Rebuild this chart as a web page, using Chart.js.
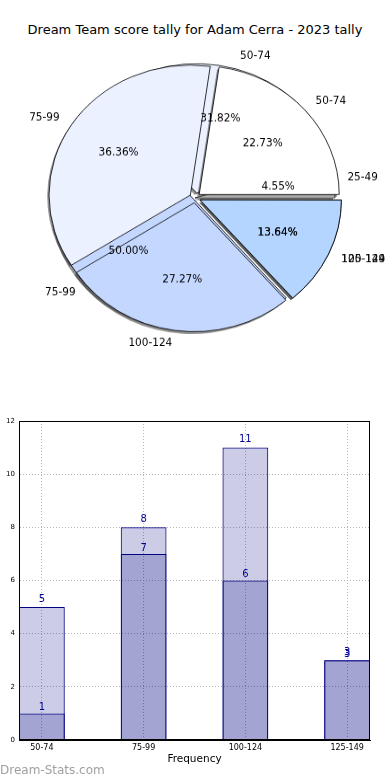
<!DOCTYPE html>
<html>
<head>
<meta charset="utf-8">
<script src="https://cdn.jsdelivr.net/npm/chart.js@4"></script>
<style>
  body { margin:0; background:#fff; width:390px; height:780px; position:relative; overflow:hidden; font-family:'DejaVu Sans', sans-serif; }
  #titulo { position:absolute; top:22px; left:0; width:390px; text-align:center; font-size:13px; color:#000; }
  .pieWrap { position:absolute; top:0; left:0; width:390px; height:400px; transform:scaleY(0.92); transform-origin:0 0; }
  .pieWrap canvas { position:absolute; top:0; left:0; }
  #barWrap { position:absolute; top:400px; left:0; width:390px; height:380px; }
  #marca { position:absolute; left:0; top:763px; font-size:12px; color:#a0a0a0; }
</style>
</head>
<body>
<div id="titulo">Dream Team score tally for Adam Cerra - 2023 tally</div>
<div class="pieWrap"><canvas id="pieAtras" width="390" height="400"></canvas></div>
<div class="pieWrap"><canvas id="pieFrente" width="390" height="400"></canvas></div>
<div id="barWrap"><canvas id="barras" width="390" height="380"></canvas></div>
<div id="marca">Dream-Stats.com</div>
<script>
// pie de atras
const rangosAtras = ['25-49', '50-74', '75-99', '100-124'];
const valoresAtras = [1, 7, 11, 3];
const separarAtras = [0, 22, 8, 22];
// pie de adelante
const rangosFrente = ['50-74', '75-99', '100-124', '125-149'];
const valoresFrente = [5, 8, 6, 3];
const separarFrente = [22, 22, 22, 22];
// barras
const rangosBarras = ['50-74', '75-99', '100-124', '125-149'];
const totales = [5, 8, 11, 3];
const temporada = [1, 7, 6, 3];
const ticksY = [0, 2, 4, 6, 8, 10, 12];

const coloresPie = ['#ffffff', '#ebf1ff', '#c4d7ff', '#b3d5ff'];
const ESCALA = 0.92; // el pie original es un ovalo
const fuente = "'DejaVu Sans', sans-serif";
Chart.defaults.font.family = fuente;

function desplazamiento(arc) {
  const circ = arc.endAngle - arc.startAngle;
  const off = (arc.options.offset || 0) / 4;
  const fix = 1 - Math.sin(Math.min(Math.PI, circ));
  return off + off * fix;
}

// sombra solo del relleno, corrida abajo a la izquierda
const sombra = {
  id: 'sombra',
  beforeDatasetsDraw(chart) {
    const c = chart.ctx;
    c.save();
    c.fillStyle = 'rgba(40,40,40,0.5)';
    chart.getDatasetMeta(0).data.forEach(arc => {
      const mid = (arc.startAngle + arc.endAngle) / 2;
      const d = desplazamiento(arc);
      const x = arc.x + Math.cos(mid) * d - 2;
      const y = arc.y + Math.sin(mid) * d + 2.5;
      c.beginPath();
      c.moveTo(x, y);
      c.arc(x, y, arc.outerRadius, arc.startAngle, arc.endAngle);
      c.closePath();
      c.fill();
    });
    c.restore();
  }
};

function texto(c, t, x, y) {
  c.save();
  c.translate(x, y);
  c.scale(1, 1 / ESCALA);
  c.fillText(t, 0, 0);
  c.restore();
}

function armarPie(id, etiquetas, valores, sep, extras) {
  return new Chart(document.getElementById(id), {
    type: 'pie',
    data: {
      labels: etiquetas.slice().reverse(),
      datasets: [{
        data: valores.slice().reverse(),
        backgroundColor: coloresPie.slice(0, valores.length).reverse(),
        borderColor: '#000',
        borderWidth: 0.8,
        offset: sep.slice().reverse()
      }]
    },
    options: {
      responsive: false,
      animation: false,
      events: [],
      radius: 140,
      rotation: 90,
      layout: { padding: { top: 30, left: 0, right: 0, bottom: 0 } },
      plugins: { legend: { display: false }, tooltip: { enabled: false } }
    },
    plugins: [sombra].concat(extras)
  });
}

const pieAtras = armarPie('pieAtras', rangosAtras, valoresAtras, separarAtras, []);

const rotulos = {
  id: 'rotulos',
  afterDraw(chart) {
    const c = chart.ctx;
    c.save();
    c.font = '10.5px ' + fuente;
    c.fillStyle = '#000';
    c.textBaseline = 'middle';
    [pieAtras, chart].forEach(ch => {
      const datos = ch.data.datasets[0].data;
      const total = datos.reduce((a, b) => a + b, 0);
      ch.getDatasetMeta(0).data.forEach((arc, i) => {
        const mid = (arc.startAngle + arc.endAngle) / 2;
        const d = desplazamiento(arc);
        const R = arc.outerRadius;
        const cx = Math.cos(mid), cy = Math.sin(mid);
        c.textAlign = cx > 0 ? 'left' : 'right';
        texto(c, ch.data.labels[i], arc.x + cx * (d + 1.1 * R), arc.y + cy * (d + 1.1 * R));
        c.textAlign = 'center';
        const pct = (datos[i] / total * 100).toFixed(2) + '%';
        texto(c, pct, arc.x + cx * (d + 0.6 * R), arc.y + cy * (d + 0.6 * R));
      });
    });
    c.restore();
  }
};

const pieFrente = armarPie('pieFrente', rangosFrente, valoresFrente, separarFrente, [rotulos]);

const valoresBarras = {
  id: 'valoresBarras',
  afterDatasetsDraw(chart) {
    const c = chart.ctx;
    c.save();
    c.font = '10px ' + fuente;
    c.fillStyle = '#000099';
    c.textAlign = 'center';
    c.textBaseline = 'bottom';
    chart.data.datasets.forEach((ds, k) => {
      chart.getDatasetMeta(k).data.forEach((bar, i) => {
        c.fillText(ds.data[i].y, bar.x, bar.y - 1 - k * 2);
      });
    });
    c.restore();
  }
};

const marco = {
  id: 'marco',
  afterDraw(chart) {
    const a = chart.chartArea;
    const c = chart.ctx;
    c.save();
    c.strokeStyle = '#000';
    c.lineWidth = 1;
    c.strokeRect(a.left + 0.5, a.top + 0.5, a.right - a.left - 1, a.bottom - a.top - 1);
    c.restore();
  }
};

const estiloBarra = {
  backgroundColor: 'rgba(0,0,128,0.2)',
  borderColor: '#000080',
  borderWidth: 1,
  grouped: false,
  barPercentage: 0.45,
  categoryPercentage: 1
};

new Chart(document.getElementById('barras'), {
  type: 'bar',
  data: {
    datasets: [
      Object.assign({ data: temporada.map((v, i) => ({ x: i, y: v })) }, estiloBarra),
      Object.assign({ data: totales.map((v, i) => ({ x: i, y: v })) }, estiloBarra)
    ]
  },
  options: {
    responsive: false,
    animation: false,
    events: [],
    layout: { padding: { top: 21, right: 20, left: 0, bottom: 0 } },
    plugins: { legend: { display: false }, tooltip: { enabled: false } },
    scales: {
      x: {
        type: 'linear',
        min: -0.225,
        max: 3.225,
        offset: false,
        afterBuildTicks: s => { s.ticks = rangosBarras.map((_, i) => ({ value: i })); },
        afterFit: s => { s.height = 40; },
        ticks: { callback: v => rangosBarras[v], font: { size: 8 }, color: '#000', padding: 3, maxRotation: 0, autoSkip: false },
        grid: { offset: false, color: '#b5b5b5', drawTicks: false },
        border: { dash: [1, 2], color: '#000' },
        title: { display: true, text: 'Frequency', font: { size: 10.5 }, color: '#000', padding: { top: 0, bottom: 14 } }
      },
      y: {
        min: 0,
        max: 12,
        afterBuildTicks: s => { s.ticks = ticksY.map(v => ({ value: v })); },
        afterFit: s => { s.width = 19; },
        ticks: { font: { size: 7 }, color: '#000', padding: 4 },
        grid: { color: '#b5b5b5', drawTicks: false },
        border: { dash: [1, 2], color: '#000' }
      }
    }
  },
  plugins: [valoresBarras, marco]
});
</script>
</body>
</html>
